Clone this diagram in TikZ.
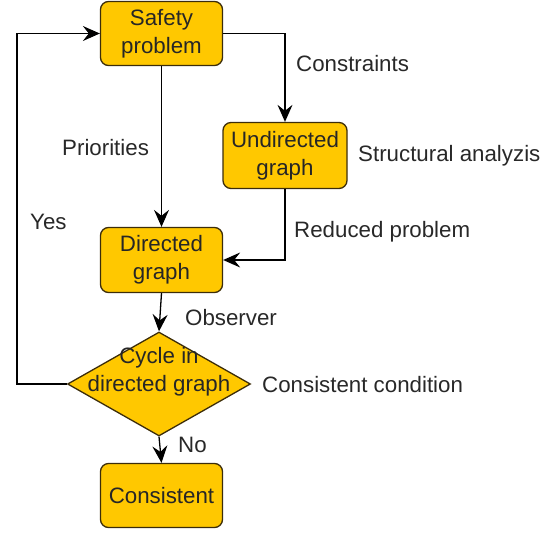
\documentclass[tikz,border=0pt]{standalone}
\usepackage{fontspec}
\setmainfont{Liberation Sans}
\usetikzlibrary{shapes.geometric,arrows.meta}
\definecolor{boxfill}{RGB}{255,200,0}
\definecolor{boxline}{RGB}{60,45,10}
\definecolor{labeltext}{RGB}{40,40,40}
\begin{document}
\begin{tikzpicture}[x=1pt,y=-1pt,
  font=\fontsize{22.3}{28}\selectfont,
  stepbox/.style={draw=boxline,fill=boxfill,line width=1.3pt,rounded corners=8pt,
    minimum width=122pt,minimum height=64pt,align=center,inner sep=0pt,text=black!85},
  decision/.style={draw=boxline,fill=boxfill,line width=1.3pt,diamond,
    minimum width=183pt,minimum height=104pt,inner sep=0pt},
  lbl/.style={anchor=west,inner sep=0pt,text=labeltext},
  link/.style={line width=1.3pt,-{Stealth[length=17pt,width=15pt,inset=6pt]}},
  plain/.style={line width=1.3pt}]
\useasboundingbox (0,0) rectangle (554,533);

% process boxes
\node[stepbox] (safe) at (161.5,33.5) {Safety\\problem};
\node[stepbox,minimum width=124pt,minimum height=66pt] (undir) at (285,155.5) {Undirected\\graph};
\node[stepbox,minimum height=65pt] (dir) at (161.5,260) {Directed\\graph};
\node[decision] (cyc) at (159,384) {};
\node[align=center,inner sep=0pt,text=black!85] (cyctext) at (159,372) {Cycle in\\directed graph};
\node[stepbox] (cons) at (161.5,495.5) {Consistent};

% connectors
\draw[link] (safe.east) -| (undir.north);
\draw[link] (safe.south) -- (dir.north);
\draw[link] (undir.south) |- (dir.east);
\draw[link] (dir.south) -- (cyc.north);
\draw[link] (cyc.south) -- (cons.north);
\coordinate (loop) at (17,384);
\draw[link] (cyc.west) -- (loop) |- (safe.west);

% edge labels
\node[lbl] (lcon) at (296,64) {Constraints};
\node[lbl] (lpri) at (62,148) {Priorities};
\node[lbl] (lstr) at (358,156) {Structural analyzis};
\node[lbl] (lyes) at (30,222) {Yes};
\node[lbl] (lred) at (294,232) {Reduced problem};
\node[lbl] (lobs) at (185,318) {Observer};
\node[lbl] (lcc) at (262,385) {Consistent condition};
\node[lbl] (lno) at (178,445) {No};
\end{tikzpicture}
\end{document}
